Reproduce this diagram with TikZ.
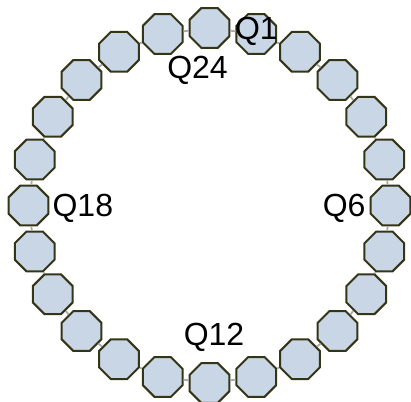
\documentclass[tikz,border=0pt]{standalone}
\usepackage{fontspec}
\setmainfont{Liberation Sans}
\usetikzlibrary{shapes.geometric,positioning}

\definecolor{qfill}{RGB}{200,214,230}
\definecolor{qedge}{RGB}{52,52,22}
\definecolor{qlink}{RGB}{168,168,168}

\begin{document}
\begin{tikzpicture}[x=1pt,y=1pt,
  qubit/.style={regular polygon, regular polygon sides=8, minimum size=43pt, inner sep=0pt, draw=qedge, fill=qfill, line width=2pt},
  link/.style={qlink, line width=1.8pt},
  qlabel/.style={font=\fontsize{32}{34}\selectfont, inner sep=0pt}]
\useasboundingbox (0,0) rectangle (411,401);
\begin{scope}[shift={(209.5,195.5)}]
\foreach \i in {1,...,24}
  \node[qubit] (q\i) at ({90-15*\i}:181 and 177.5) {};
\end{scope}
\foreach \i [evaluate=\i as \j using {int(mod(\i,24)+1)}] in {1,...,24}
  \draw[link] (q\i) -- (q\j);
\node[qlabel, yshift=2.5pt] (l1) at (q1) {Q1};
\node[qlabel, left=4pt of q6, yshift=-3pt] (l6) {Q6};
\node[qlabel, above=10pt of q12, xshift=4.5pt] (l12) {Q12};
\node[qlabel, right=3pt of q18, yshift=-2.5pt] (l18) {Q18};
\node[qlabel, below=7.5pt of q24, xshift=-12pt] (l24) {Q24};
\end{tikzpicture}
\end{document}
